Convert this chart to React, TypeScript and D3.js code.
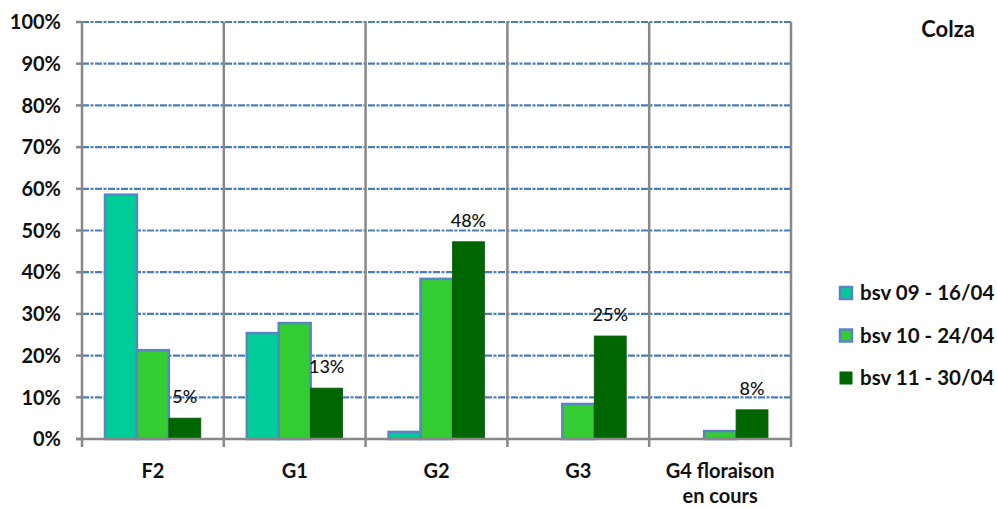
import * as d3 from "d3";

const categories = ["F2", "G1", "G2", "G3", "G4 floraison\nen cours"];
const seriesNames = ["bsv 09 - 16/04", "bsv 10 - 24/04", "bsv 11 - 30/04"];
const bsv09 = [58.6, 25.4, 1.7, 0, 0];
const bsv10 = [21.3, 27.8, 38.4, 8.4, 1.9];
const bsv11 = [5.0, 12.2, 47.3, 24.7, 7.0];
const bsv11Labels = ["5%", "13%", "48%", "25%", "8%"];
const yTicks = [0, 10, 20, 30, 40, 50, 60, 70, 80, 90, 100];

const COLORS = ["#00cc99", "#33cc33", "#006600"];
const BORDER = "#5a84c4";
const FONT = "Lato, 'Open Sans', sans-serif";

const W = 997;
const H = 507;
const X0 = 82;
const X1 = 791;
const Y0 = 439;
const Y1 = 22;

export default function App() {
  const x = d3.scaleBand<string>().domain(categories).range([X0, X1]);
  const inner = d3
    .scaleBand<number>()
    .domain([0, 1, 2])
    .range([0, x.bandwidth()])
    .paddingOuter(0.72);
  const y = d3.scaleLinear().domain([0, 100]).range([Y0, Y1]);
  const series = [bsv09, bsv10, bsv11];

  return (
    <svg
      width={W}
      height={H}
      style={{ position: "absolute", left: 0, top: 0, fontFamily: FONT }}
    >
      <rect width={W} height={H} fill="#fff" />
      {/* gridlines */}
      {yTicks
        .filter((t) => t > 0)
        .map((t) => (
          <line
            key={t}
            x1={X0}
            x2={X1}
            y1={y(t)}
            y2={y(t)}
            stroke="#4a7ebb"
            strokeWidth={2.2}
            strokeDasharray="7 1.5 3 1.5"
          />
        ))}
      {/* category separators */}
      {categories.map((c) => (
        <line
          key={c}
          x1={(x(c) as number) + x.bandwidth()}
          x2={(x(c) as number) + x.bandwidth()}
          y1={Y1}
          y2={Y0 + 8}
          stroke="#888"
          strokeWidth={2.5}
        />
      ))}
      {/* bars */}
      {series.map((vals, si) =>
        vals.map((v, ci) => {
          if (v <= 0) return null;
          const bx = (x(categories[ci]) as number) + (inner(si) as number);
          return (
            <rect
              key={`${si}-${ci}`}
              x={bx}
              y={y(v)}
              width={inner.bandwidth()}
              height={Y0 - y(v)}
              fill={COLORS[si]}
              stroke={si < 2 ? BORDER : "#0a5a0a"}
              strokeWidth={si < 2 ? 2.5 : 0.8}
            />
          );
        })
      )}
      {/* value labels */}
      {bsv11.map((v, ci) => (
        <text
          key={ci}
          x={(x(categories[ci]) as number) + (inner(2) as number) + inner.bandwidth() / 2}
          y={y(v) - 15}
          textAnchor="middle"
          fontSize={18}
          fontWeight={500}
          fill="#111"
        >
          {bsv11Labels[ci]}
        </text>
      ))}
      {/* axes */}
      <line x1={X0} x2={X0} y1={Y1 - 1} y2={Y0 + 8} stroke="#888" strokeWidth={2.5} />
      <line x1={X0 - 6} x2={X1 + 1} y1={Y0} y2={Y0} stroke="#888" strokeWidth={2.5} />
      {yTicks.map((t) => (
        <g key={t}>
          <line x1={X0 - 6} x2={X0} y1={y(t)} y2={y(t)} stroke="#888" strokeWidth={2.5} />
          <text
            x={61}
            y={y(t)}
            dy="0.36em"
            textAnchor="end"
            fontSize={20}
            fontWeight="bold"
            fill="#111"
          >
            {t}%
          </text>
        </g>
      ))}
      {categories.map((c) => (
        <text
          key={c}
          x={(x(c) as number) + x.bandwidth() / 2}
          y={478}
          textAnchor="middle"
          fontSize={20}
          fontWeight="bold"
          fill="#111"
        >
          {c.split("\n").map((line, i) => (
            <tspan key={i} x={(x(c) as number) + x.bandwidth() / 2} dy={i === 0 ? 0 : 25}>
              {line}
            </tspan>
          ))}
        </text>
      ))}
      {/* title */}
      <text x={975} y={37} textAnchor="end" fontSize={22} fontWeight="bold" fill="#111">
        Colza
      </text>
      {/* legend */}
      {seriesNames.map((s, i) => (
        <g key={s} transform={`translate(840, ${293 + i * 42.5})`}>
          <rect
            x={0}
            y={-6}
            width={12}
            height={12}
            fill={COLORS[i]}
            stroke={i < 2 ? BORDER : COLORS[i]}
            strokeWidth={i < 2 ? 2.5 : 1}
          />
          <text x={20} y={0} dy="0.36em" fontSize={20.5} fontWeight="bold" fill="#111">
            {s}
          </text>
        </g>
      ))}
    </svg>
  );
}
